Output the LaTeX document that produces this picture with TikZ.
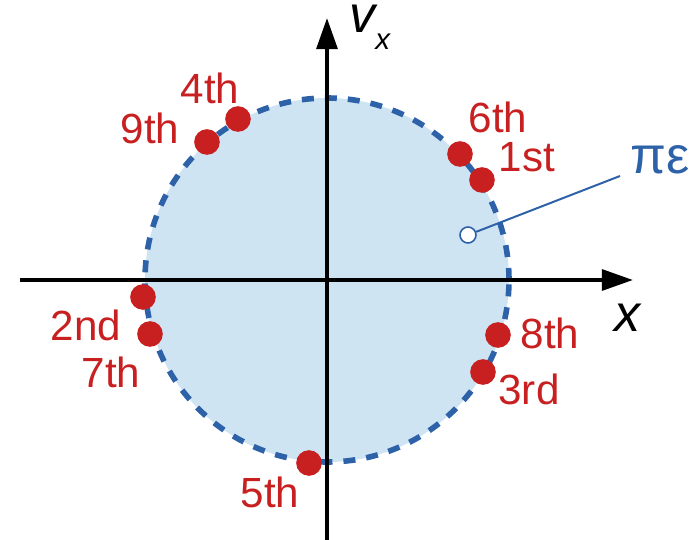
\documentclass[tikz,border=0pt]{standalone}
\usepackage{fontspec}
\setmainfont{Liberation Sans}
\usetikzlibrary{arrows.meta}
\definecolor{dotred}{RGB}{200,32,32}
\definecolor{ringblue}{RGB}{46,98,168}
\definecolor{discblue}{RGB}{207,228,243}
\tikzset{
  dot/.style={circle,fill=dotred,inner sep=0pt,minimum size=0.64cm},
  ordlabel/.style={text=dotred,font=\fontsize{30}{36}\selectfont},
  biglabel/.style={font=\fontsize{37}{44}\selectfont},
  axis/.style={line width=0.1cm,-{Triangle[length=0.78cm,width=0.52cm]}},
}
\begin{document}
\begin{tikzpicture}[x=0.025cm,y=0.025cm]
    \useasboundingbox (-327,-260) rectangle (372,280);
    % disc and its dashed rim
    \fill[discblue] (0,0) circle (182);
    \draw[ringblue,line width=0.14cm,dash pattern=on 0.3cm off 0.275cm] (0,0) circle (182);
    % axes
    \coordinate (xfrom) at (-307,0);
    \coordinate (xto) at (306,0);
    \coordinate (vfrom) at (0,-260);
    \coordinate (vto) at (0,262);
    \draw[axis] (xfrom) -- (xto);
    \draw[axis] (vfrom) -- (vto);
    \node[biglabel,anchor=base west,inner sep=0pt,text height=0.72cm] (vlab) at (22,247) {\itshape v\raisebox{-0.4cm}{\fontsize{21}{21}\selectfont x}};
    \node[biglabel] (xlab) at (301,-38) {\itshape x};
    % points
    \node[dot] (d1) at (155,100) {};
    \node[dot] (d2) at (-184,-17) {};
    \node[dot] (d3) at (156,-92) {};
    \node[dot] (d4) at (-89,161) {};
    \node[dot] (d5) at (-18,-183) {};
    \node[dot] (d6) at (133,126) {};
    \node[dot] (d7) at (-177,-54) {};
    \node[dot] (d8) at (171,-55) {};
    \node[dot] (d9) at (-120,138) {};
    \node[ordlabel] (l1) at (200,123) {1st};
    \node[ordlabel] (l2) at (-241,-45) {2nd};
    \node[ordlabel] (l3) at (202,-109) {3rd};
    \node[ordlabel] (l4) at (-117,192) {4th};
    \node[ordlabel] (l5) at (-57,-212) {5th};
    \node[ordlabel] (l6) at (171,163) {6th};
    \node[ordlabel] (l7) at (-216,-92) {7th};
    \node[ordlabel] (l8) at (223,-53) {8th};
    \node[ordlabel] (l9) at (-177,152) {9th};
    % pi epsilon marker
    \node[circle,draw=ringblue,fill=white,line width=0.04cm,inner sep=0pt,minimum size=0.4cm] (pe) at (141,45) {};
    \coordinate (peend) at (293,104);
    \draw[ringblue,line width=0.05cm] (pe) -- (peend);
    \node[biglabel,text=ringblue] (pelab) at (333,120) {πε};
\end{tikzpicture}
\end{document}
